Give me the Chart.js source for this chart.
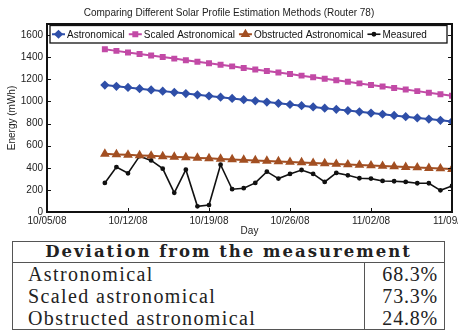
<!DOCTYPE html>
<html>
<head>
<meta charset="utf-8">
<script src="https://cdn.jsdelivr.net/npm/chart.js@4.4.1/dist/chart.umd.min.js"></script>
<style>
  body { margin: 0; background: #fff; width: 458px; height: 332px; overflow: hidden; position: relative; }
  #solar { position: absolute; left: 0; top: 0; }
  table.deviation {
    position: absolute; left: 12px; top: 241px; width: 433px;
    border-collapse: collapse; border: 1px solid #555;
    font-family: "Liberation Serif", serif; color: #222;
  }
  table.deviation th {
    font-family: "DejaVu Serif", serif;
    font-size: 16.5px; letter-spacing: 2px; font-weight: bold;
    height: 20px; line-height: 20px; padding: 0; border-bottom: 1px solid #555;
  }
  table.deviation td { font-size: 20px; letter-spacing: 1.4px; height: 22px; line-height: 22px; padding: 0 0 0 15px; }
  table.deviation td.val { border-left: 1px solid #555; text-align: right; padding: 0 6px 0 0; width: 73px; letter-spacing: 0.8px; }
</style>
</head>
<body>
<canvas id="solar" width="458" height="240"></canvas>
<table class="deviation" id="deviation">
  <tr><th colspan="2">Deviation from the measurement</th></tr>
</table>
<script>
// Router 78, daily energy per method (mWh)
const days = ['10/10/08', '10/11/08', '10/12/08', '10/13/08', '10/14/08', '10/15/08', '10/16/08',
  '10/17/08', '10/18/08', '10/19/08', '10/20/08', '10/21/08', '10/22/08', '10/23/08', '10/24/08',
  '10/25/08', '10/26/08', '10/27/08', '10/28/08', '10/29/08', '10/30/08', '10/31/08', '11/01/08',
  '11/02/08', '11/03/08', '11/04/08', '11/05/08', '11/06/08', '11/07/08', '11/08/08', '11/09/08'];
const weekTicks = ['10/05/08', '10/12/08', '10/19/08', '10/26/08', '11/02/08', '11/09/08'];
const energyTicks = [0, 200, 400, 600, 800, 1000, 1200, 1400, 1600];

const astronomical = [1148, 1137, 1126, 1115, 1104, 1093, 1082, 1071, 1060, 1049, 1038, 1027, 1016,
  1005, 994, 983, 972, 961, 950, 939, 928, 917, 906, 895, 884, 873, 862, 851, 840, 829, 818];
const scaledAstronomical = [1471, 1457, 1443, 1429, 1415, 1401, 1387, 1373, 1359, 1345, 1331, 1317,
  1303, 1289, 1275, 1261, 1247, 1233, 1219, 1205, 1191, 1177, 1163, 1149, 1135, 1121, 1107, 1093,
  1079, 1065, 1051];
const obstructedAstronomical = [526, 521, 517, 512, 508, 503, 498, 494, 489, 485, 480, 475, 471, 466,
  462, 457, 452, 448, 443, 439, 434, 429, 425, 420, 416, 411, 406, 402, 397, 393, 388];
const measured = [263, 406, 350, 505, 466, 392, 173, 383, 51, 63, 428, 206, 215, 263, 365, 302, 344,
  380, 344, 272, 353, 332, 305, 302, 281, 278, 272, 260, 260, 196, 236];

const deviationLabels = ['Astronomical', 'Scaled astronomical', 'Obstructed astronomical'];
const deviations = [68.3, 73.3, 24.8];

// days since the first week tick
function dayNumber(s) {
  const p = s.split('/').map(Number);
  const t = Date.UTC(2000 + p[2], p[0] - 1, p[1]);
  const p0 = weekTicks[0].split('/').map(Number);
  return Math.round((t - Date.UTC(2000 + p0[2], p0[0] - 1, p0[1])) / 864e5);
}

function points(values) {
  return values.map(function(v, i) { return { x: dayNumber(days[i]), y: v }; });
}

const sans = '"Liberation Sans", Arial, sans-serif';

// MATLAB style box with inward ticks on all four sides
const framePlugin = {
  id: 'frame',
  afterDatasetsDraw(chart) {
    const ctx = chart.ctx, a = chart.chartArea, x = chart.scales.x, y = chart.scales.y;
    ctx.save();
    ctx.strokeStyle = '#111';
    ctx.lineWidth = 1;
    ctx.beginPath();
    x.ticks.forEach(function(t) {
      const px = Math.round(x.getPixelForValue(t.value)) + 0.5;
      ctx.moveTo(px, a.bottom); ctx.lineTo(px, a.bottom - 4);
      ctx.moveTo(px, a.top); ctx.lineTo(px, a.top + 4);
    });
    y.ticks.forEach(function(t) {
      const py = Math.round(y.getPixelForValue(t.value)) + 0.5;
      ctx.moveTo(a.left, py); ctx.lineTo(a.left + 4, py);
      ctx.moveTo(a.right, py); ctx.lineTo(a.right - 4, py);
    });
    ctx.stroke();
    ctx.lineWidth = 2;
    ctx.strokeRect(a.left, a.top, a.width, a.height);
    ctx.restore();
  }
};

// one-row legend box inside the top of the plot
const boxLegendPlugin = {
  id: 'boxLegend',
  afterDraw(chart) {
    const ctx = chart.ctx, a = chart.chartArea;
    const top = a.top + 1.5, h = 17.5, mid = top + h / 2;
    ctx.save();
    ctx.fillStyle = '#fff';
    ctx.fillRect(a.left + 3, top, a.width - 8, h);
    ctx.strokeStyle = '#111';
    ctx.lineWidth = 1.3;
    ctx.strokeRect(a.left + 3, top, a.width - 8, h);
    ctx.font = '10px ' + sans;
    ctx.textBaseline = 'middle';
    let sx = a.left + 5;
    chart.data.datasets.forEach(function(ds) {
      ctx.strokeStyle = ds.borderColor;
      ctx.lineWidth = ds.borderWidth;
      ctx.beginPath();
      ctx.moveTo(sx, mid); ctx.lineTo(sx + 13, mid);
      ctx.stroke();
      Chart.helpers.drawPoint(ctx, {
        pointStyle: ds.pointStyle, radius: ds.pointRadius, borderWidth: 1, rotation: 0
      }, sx + 6.5, mid);
      ctx.fillStyle = ds.pointBackgroundColor;
      ctx.fill();
      ctx.fillStyle = '#111';
      ctx.fillText(ds.label, sx + 15, mid + 0.5);
      sx += 15 + ctx.measureText(ds.label).width + 4;
    });
    ctx.restore();
  }
};

function series(label, values, color, style, radius, width) {
  return {
    label: label,
    data: points(values),
    borderColor: color,
    backgroundColor: color,
    pointBackgroundColor: color,
    pointBorderColor: color,
    pointStyle: style,
    pointRadius: radius,
    borderWidth: width,
    tension: 0
  };
}

const solarChart = new Chart(document.getElementById('solar'), {
  type: 'line',
  data: {
    datasets: [
      series('Astronomical', astronomical, '#2f4fa8', 'rectRot', 3.2, 2),
      series('Scaled Astronomical', scaledAstronomical, '#c24aa6', 'rect', 2.8, 2),
      series('Obstructed Astronomical', obstructedAstronomical, '#a24f22', 'triangle', 3.6, 2),
      series('Measured', measured, '#111111', 'circle', 1.6, 1.6)
    ]
  },
  options: {
    responsive: false,
    animation: false,
    devicePixelRatio: 1,
    layout: { padding: 0 },
    plugins: {
      legend: { display: false },
      tooltip: { enabled: false },
      title: {
        display: true,
        text: 'Comparing Different Solar Profile Estimation Methods (Router 78)',
        color: '#222',
        font: { family: sans, size: 10, weight: 'normal' },
        padding: { top: 7, bottom: 5 }
      }
    },
    scales: {
      x: {
        type: 'linear',
        min: dayNumber(weekTicks[0]),
        max: dayNumber(weekTicks[weekTicks.length - 1]),
        afterBuildTicks: function(scale) {
          scale.ticks = weekTicks.map(function(s) { return { value: dayNumber(s) }; });
        },
        afterFit: function(scale) {
          scale.height = 28;
          scale.paddingLeft = 0;
          scale.paddingRight = 0;
        },
        grid: { display: false, drawTicks: false },
        border: { display: false },
        ticks: {
          color: '#222',
          padding: 3,
          maxRotation: 0,
          font: { family: sans, size: 10 },
          callback: function(value) { return weekTicks[weekTicks.map(dayNumber).indexOf(value)]; }
        },
        title: { display: true, text: 'Day', color: '#222', font: { family: sans, size: 10 }, padding: { top: 0, bottom: 3 } }
      },
      y: {
        min: 0,
        max: 1700,
        afterBuildTicks: function(scale) {
          scale.ticks = energyTicks.map(function(v) { return { value: v }; });
        },
        afterFit: function(scale) { scale.width = 47; },
        grid: { display: false, drawTicks: false },
        border: { display: false },
        ticks: {
          color: '#222',
          padding: 4,
          font: { family: sans, size: 10 },
          callback: function(value) { return String(value); }
        },
        title: { display: true, text: 'Energy (mWh)', color: '#222', font: { family: sans, size: 10 }, padding: { top: 6, bottom: 0 } }
      }
    }
  },
  plugins: [framePlugin, boxLegendPlugin]
});

// deviation table under the chart
const table = document.getElementById('deviation');
deviationLabels.forEach(function(name, i) {
  const row = table.insertRow();
  row.insertCell().textContent = name;
  const cell = row.insertCell();
  cell.className = 'val';
  cell.textContent = deviations[i].toFixed(1) + '%';
});
</script>
</body>
</html>
